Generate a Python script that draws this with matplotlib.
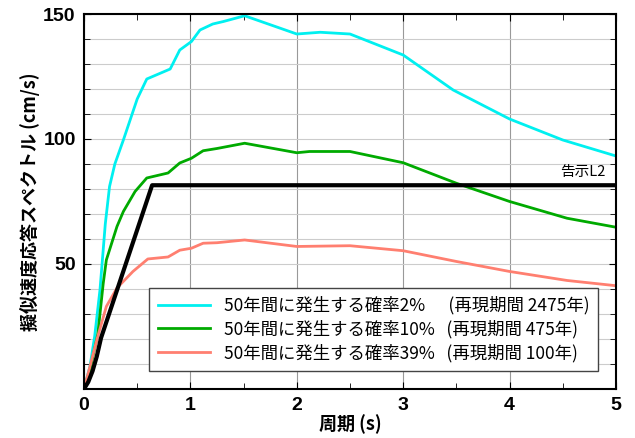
import matplotlib
matplotlib.use("Agg")
import matplotlib.pyplot as plt
from matplotlib.ticker import MultipleLocator

plt.rcParams['font.family'] = ['Noto Sans CJK JP', 'DejaVu Sans']

# 周期 (s) と擬似速度応答 (cm/s)
t_2 = [0, 0.056, 0.10, 0.15, 0.20, 0.24, 0.29, 0.37, 0.50, 0.59, 0.81, 0.90, 1.01, 1.09, 1.21,
       1.31, 1.51, 2.0, 2.22, 2.5, 3.0, 3.47, 4.0, 4.5, 5.0]
sv_2 = [0, 9, 21, 39.6, 66, 81, 90, 99.6, 116, 124, 128, 135.6, 139, 143.6, 146,
        147, 149.3, 142, 142.7, 142, 133.6, 119.6, 108, 99.6, 93.2]

t_10 = [0, 0.056, 0.13, 0.18, 0.21, 0.31, 0.37, 0.48, 0.59, 0.79, 0.90, 1.01, 1.12, 1.25,
        1.51, 2.0, 2.12, 2.5, 3.0, 3.5, 4.0, 4.54, 5.0]
sv_10 = [0, 7.6, 22, 42, 51.6, 65, 71, 79, 84.4, 86.4, 90.4, 92.3, 95.3, 96.2,
         98.3, 94.5, 95, 95, 90.5, 82.3, 75, 68.3, 64.7]

t_39 = [0, 0.056, 0.12, 0.21, 0.31, 0.46, 0.60, 0.79, 0.90, 1.01, 1.12, 1.25, 1.51, 2.0,
        2.5, 3.0, 3.5, 4.0, 4.54, 5.0]
sv_39 = [0, 9, 19.6, 33, 40.4, 47, 52, 52.8, 55.5, 56.3, 58.3, 58.5, 59.6, 57,
         57.3, 55.3, 51, 47, 43.4, 41.3]

t_l2 = [0, 0.04, 0.08, 0.12, 0.16, 0.64, 5.0]
sv_l2 = [0, 2.8, 7.1, 13.0, 20.4, 81.5, 81.5]

labels = ['50年間に発生する確率2%      (再現期間 2475年)',
          '50年間に発生する確率10%   (再現期間 475年)',
          '50年間に発生する確率39%   (再現期間 100年)']

fig = plt.figure(figsize=(6.35, 4.38), dpi=100)
ax = fig.add_axes([0.1323, 0.112, 0.8377, 0.856])

ax.plot(t_2, sv_2, color='#00f0f0', lw=2, label=labels[0])
ax.plot(t_10, sv_10, color='#00aa00', lw=2, label=labels[1])
ax.plot(t_39, sv_39, color='#ff7f70', lw=2, label=labels[2])
ax.plot(t_l2, sv_l2, color='black', lw=3)

ax.text(4.9, 84, '告示L2', fontsize=10.5, ha='right', va='bottom')

ax.set_xlim(0, 5)
ax.set_ylim(0, 150)
ax.xaxis.set_major_locator(MultipleLocator(1))
ax.xaxis.set_minor_locator(MultipleLocator(0.5))
ax.yaxis.set_major_locator(MultipleLocator(50))
ax.yaxis.set_minor_locator(MultipleLocator(10))
ax.grid(True, which='major', axis='x', color='#999999', lw=0.8)
ax.grid(True, which='both', axis='y', color='#cccccc', lw=0.8)
ax.set_axisbelow(True)
ax.tick_params(which='both', direction='in', top=True, right=True)
ax.tick_params(which='major', length=5, labelsize=14, pad=6)
ax.tick_params(which='minor', length=4)
ax.set_yticks([50, 100, 150])
for lab in ax.get_xticklabels() + ax.get_yticklabels():
    lab.set_fontweight('bold')
    lab.set_family(['Liberation Sans', 'DejaVu Sans'])
for sp in ax.spines.values():
    sp.set_linewidth(1.5)

ax.set_xlabel('周期 (s)', fontsize=13, fontweight='bold', labelpad=0)
ax.set_ylabel('擬似速度応答スペクトル (cm/s)', fontsize=13, fontweight='bold', labelpad=2)

leg = ax.legend(loc='lower right', bbox_to_anchor=(0.983, 0.025), fontsize=12.5,
                fancybox=False, framealpha=1, edgecolor='#444444',
                handlelength=3, borderpad=0.5, labelspacing=0.3)
leg.get_frame().set_linewidth(1)

fig.savefig('out.png', dpi=100)
